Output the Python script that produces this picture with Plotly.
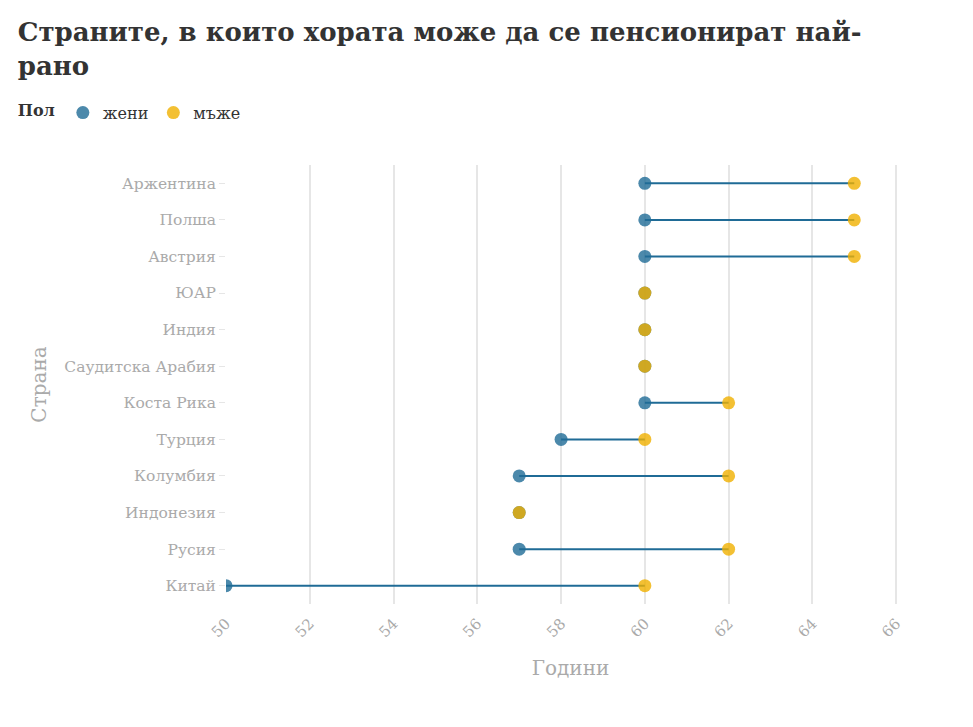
import plotly.graph_objects as go

countries = ["Аржентина", "Полша", "Австрия", "ЮАР", "Индия", "Саудитска Арабия",
             "Коста Рика", "Турция", "Колумбия", "Индонезия", "Русия", "Китай"]
women = [60, 60, 60, 60, 60, 60, 60, 58, 57, 57, 57, 50]
men = [65, 65, 65, 60, 60, 60, 62, 60, 62, 57, 62, 60]
x_ticks = [50, 52, 54, 56, 58, 60, 62, 64, 66]

FONT = "DejaVu Serif"
BLUE = "#1f6b96"
YELLOW = "#f0b000"

lx, ly = [], []
for c, w, m in zip(countries, women, men):
    lx += [w, m, None]
    ly += [c, c, None]

fig = go.Figure()
fig.add_trace(go.Scatter(x=lx, y=ly, mode="lines", line=dict(color=BLUE, width=2),
                         showlegend=False, hoverinfo="skip"))
fig.add_trace(go.Scatter(x=women, y=countries, mode="markers", name="жени",
                         marker=dict(color=BLUE, size=13, opacity=0.8)))
fig.add_trace(go.Scatter(x=men, y=countries, mode="markers", name="мъже",
                         marker=dict(color=YELLOW, size=13, opacity=0.8)))

fig.update_layout(
    width=973, height=727,
    paper_bgcolor="white", plot_bgcolor="white",
    font=dict(family=FONT, color="#333"),
    title=dict(text="<b>Страните, в които хората може да се пенсионират най-<br>рано</b>",
               x=0.01, xanchor="left", xref="container", y=0.954, yanchor="top",
               font=dict(size=26, color="#333", family=FONT)),
    legend=dict(orientation="h", xref="container", yref="container",
                x=0.008, xanchor="left", y=0.856, yanchor="middle",
                title=dict(text="<b>Пол</b>", font=dict(size=16, color="#333")),
                font=dict(size=16, color="#333"), itemsizing="trace",
                itemwidth=30, tracegroupgap=0),
    margin=dict(l=218, r=66, t=157, b=131),
    xaxis=dict(range=[50, 66.45], tickvals=x_ticks, tickangle=-45, automargin=False,
               showgrid=True, gridcolor="#e6e6e6", gridwidth=1.5, zeroline=False,
               ticklabelstandoff=7,
               tickfont=dict(size=15, color="#aaa"),
               title=dict(text="Години", font=dict(size=20, color="#aaa"), standoff=20)),
    yaxis=dict(categoryorder="array", categoryarray=countries[::-1], automargin=False,
               range=[-0.5, 11.5], showgrid=False, zeroline=False,
               ticks="outside", ticklen=6, tickcolor="#e6e6e6",
               tickfont=dict(size=15.5, color="#aaa"),
               title=dict(text="Страна", font=dict(size=20, color="#aaa"), standoff=12)),
)

fig.write_html("out.html")
